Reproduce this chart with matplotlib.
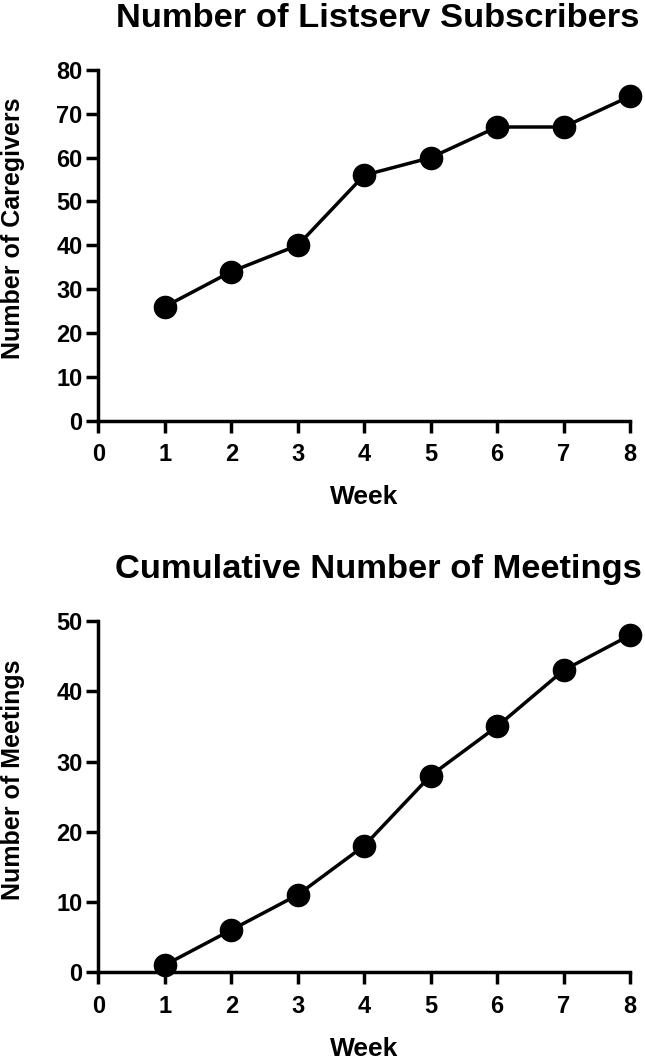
import matplotlib
matplotlib.use("Agg")
import matplotlib.pyplot as plt

weeks = [1, 2, 3, 4, 5, 6, 7, 8]
subscribers = [26, 34, 40, 56, 60, 67, 67, 74]
meetings = [1, 6, 11, 18, 28, 35, 43, 48]

plt.rcParams["font.family"] = ["Liberation Sans", "DejaVu Sans"]
plt.rcParams["font.weight"] = "bold"

fig = plt.figure(figsize=(6.45, 10.63), dpi=100)
ax1 = fig.add_axes([0.1527, 0.6044, 0.824, 0.3297])
ax2 = fig.add_axes([0.1527, 0.0856, 0.824, 0.330])


def style(ax, ymax, ystep, ylabel, title):
    ax.set_xlim(0, 8)
    ax.set_ylim(0, ymax)
    ax.set_xticks(range(0, 9))
    ax.set_yticks(range(0, ymax + 1, ystep))
    for s in ("top", "right"):
        ax.spines[s].set_visible(False)
    for s in ("left", "bottom"):
        ax.spines[s].set_linewidth(2.5)
    ax.tick_params(width=2.5, length=8.5, direction="out", labelsize=17)
    ax.tick_params(axis="x", pad=8)
    ax.tick_params(axis="y", pad=3)
    for lab in ax.get_xticklabels() + ax.get_yticklabels():
        lab.set_fontweight("bold")
    ax.set_xlabel("Week", fontsize=19, fontweight="bold")
    ax.set_ylabel(ylabel, fontsize=18, fontweight="bold")
    ax.xaxis.set_label_coords(0.5, -0.185)
    ax.yaxis.set_label_coords(-0.138, 0.548)
    ax.set_title(title, fontsize=24.8, fontweight="bold", pad=31, x=0.526)


ax1.plot(weeks, subscribers, "o-", color="black", lw=2.5, ms=16, clip_on=False)
style(ax1, 80, 10, "Number of Caregivers", "Number of Listserv Subscribers")

ax2.plot(weeks, meetings, "o-", color="black", lw=2.5, ms=16, clip_on=False)
style(ax2, 50, 10, "Number of Meetings", "Cumulative Number of Meetings")

fig.savefig("out.png", dpi=100)
